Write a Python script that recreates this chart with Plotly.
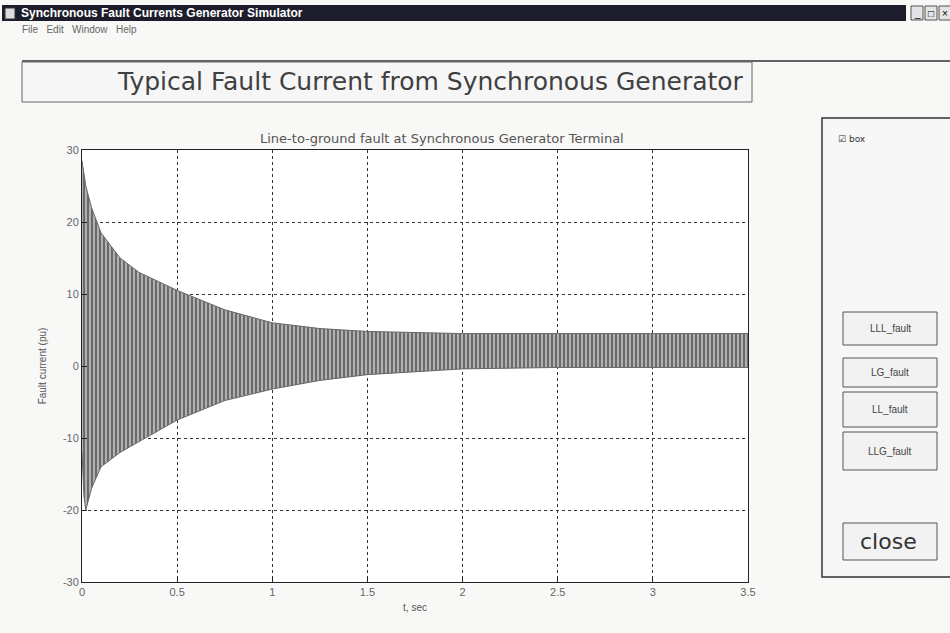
import plotly.graph_objects as go

# ---- data ----
t_env = [0, 0.01, 0.02, 0.05, 0.1, 0.2, 0.3, 0.5, 0.75, 1.0, 1.25, 1.5, 2.0, 2.5, 3.0, 3.5]
upper_env = [28.5, 27, 25, 22, 18.5, 15, 13, 10.5, 7.8, 6.0, 5.2, 4.8, 4.5, 4.5, 4.5, 4.5]
lower_env = [-12, -18, -20, -17, -14, -12, -10.5, -7.5, -4.8, -3.2, -2.0, -1.2, -0.4, -0.2, -0.2, -0.2]
x_ticks = [0, 0.5, 1, 1.5, 2, 2.5, 3, 3.5]
x_tick_labels = ["0", "0.5", "1", "1.5", "2", "2.5", "3", "3.5"]
y_ticks = [-30, -20, -10, 0, 10, 20, 30]
y_tick_labels = ["-30", "-20", "-10", "0", "10", "20", "30"]
buttons = ["LLL_fault", "LG_fault", "LL_fault", "LLG_fault"]

W, H = 950, 633
L, R, T, B = 82, 748, 150, 582


def px(x):
    return (x - L) / (R - L)


def py(y):
    return (B - y) / (B - T)


fig = go.Figure()
fig.add_trace(go.Scatter(x=t_env, y=lower_env, mode="lines",
                         line=dict(color="#666666", width=1), hoverinfo="skip",
                         showlegend=False))
fig.add_trace(go.Scatter(x=t_env, y=upper_env, mode="lines", fill="tonexty",
                         line=dict(color="#666666", width=1),
                         fillcolor="#a0a0a0",
                         fillpattern=dict(shape="|", fgcolor="#151515", bgcolor="#b0b0b0",
                                          size=4, solidity=0.45),
                         hoverinfo="skip", showlegend=False))

shapes = []
annots = []


def text(x, y, s, size, color="#333", family="Liberation Sans", xanchor="center"):
    annots.append(dict(x=px(x), y=py(y), xref="paper", yref="paper", text=s, showarrow=False,
                       xanchor=xanchor, yanchor="middle",
                       font=dict(size=size, color=color, family=family)))


def rect(x0, y0, x1, y1, fill, line_color, lw=1):
    shapes.append(dict(type="rect", xref="paper", yref="paper", x0=px(x0), x1=px(x1), y0=py(y1), y1=py(y0),
                       fillcolor=fill, line=dict(color=line_color, width=lw), layer="below"))


# title bar
rect(2, 5, 906, 21, "#1c1c2a", "#1c1c2a", 0)
rect(5, 8, 15, 19, "#dddddd", "#333")
for bx, sym in [(911, "_"), (925, "□"), (939, "×")]:
    rect(bx, 6, bx + 12, 20, "#e4e4e4", "#555")
    text(bx + 6, 13, sym, 10, "#000")
text(19, 13, "<b>Synchronous Fault Currents Generator Simulator</b>", 12, "#ffffff", xanchor="left")
# menu
text(20, 29, "File   Edit   Window   Help", 10, "#666", xanchor="left")
# separator line and title box
shapes.append(dict(type="line", xref="paper", yref="paper", x0=px(22), x1=px(950), y0=py(61), y1=py(61),
                   line=dict(color="#333", width=1.5), layer="below"))
rect(22, 62, 752, 102, "#f6f6f6", "#666")
text(430, 82, "Typical Fault Current from Synchronous Generator", 25, "#404040", family="DejaVu Sans")
# right panel
rect(822, 118, 955, 577, "#f7f7f7", "#333", 1.5)
text(836, 139, "☑ box", 9, "#333", family="DejaVu Sans", xanchor="left")
btn_pos = [(312, 345), (358, 387), (392, 427), (432, 470)]
for name, (y0, y1) in zip(buttons, btn_pos):
    rect(843, y0, 937, y1, "#f2f2f2", "#555")
    text(890, (y0 + y1) / 2, name, 10, "#444")
rect(843, 523, 937, 560, "#f2f2f2", "#555")
text(888, 541, "close", 22, "#333", family="DejaVu Sans")
# subtitle
text(442, 138, "Line-to-ground fault at Synchronous Generator Terminal", 13, "#555", family="DejaVu Sans")

fig.update_layout(
    width=W, height=H,
    margin=dict(l=L, r=W - R, t=T, b=H - B),
    paper_bgcolor="#f8f8f6", plot_bgcolor="#ffffff",
    shapes=shapes, annotations=annots,
    xaxis=dict(range=[0, 3.5], tickvals=x_ticks, ticktext=x_tick_labels,
               showgrid=True, gridcolor="#333", griddash="dot", gridwidth=1,
               showline=True, linecolor="#222", linewidth=1, mirror=True,
               ticks="inside", ticklen=5, tickcolor="#222", zeroline=False,
               tickfont=dict(size=11, color="#666", family="Liberation Sans"),
               title=dict(text="t, sec", font=dict(size=10, color="#555", family="Liberation Sans"),
                          standoff=6)),
    yaxis=dict(range=[-30, 30], tickvals=y_ticks, ticktext=y_tick_labels,
               showgrid=True, gridcolor="#333", griddash="dot", gridwidth=1,
               showline=True, linecolor="#222", linewidth=1, mirror=True,
               ticks="inside", ticklen=5, tickcolor="#222", zeroline=False,
               tickfont=dict(size=11, color="#666", family="Liberation Sans"),
               title=dict(text="Fault current (pu)", font=dict(size=10, color="#555", family="Liberation Sans"),
                          standoff=14)),
)

fig.write_html("out.html", config={"displayModeBar": False},
               post_script="document.body.style.margin='0';document.body.style.overflow='hidden';")
